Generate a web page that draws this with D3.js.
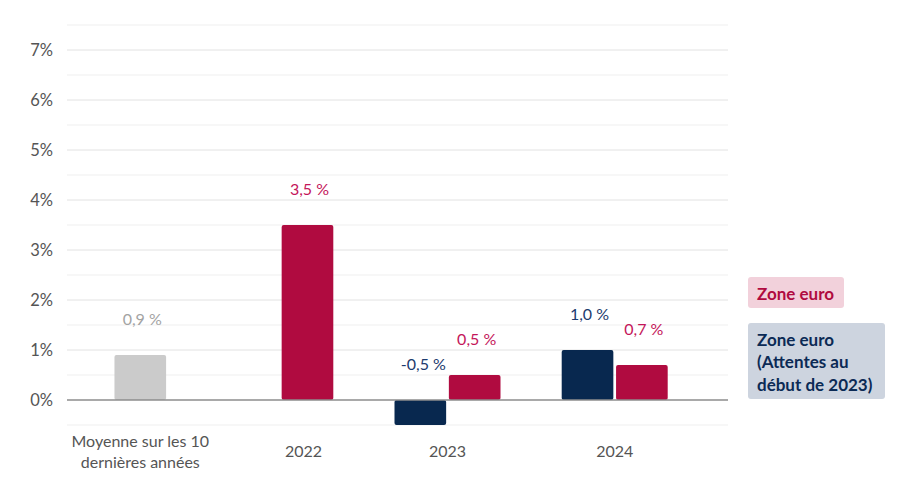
<!DOCTYPE html>
<html><head><meta charset="utf-8">
<script src="https://cdn.jsdelivr.net/npm/d3@7"></script>
<style>body{margin:0;background:#fff;} text{font-family:"Source Sans Pro",Lato,"Open Sans",sans-serif;}</style>
</head><body><svg id="c" width="900" height="477"></svg>
<script>
const categories = ["Moyenne sur les 10|dernières années", "2022", "2023", "2024"];
const seriesNames = ["Zone euro (Attentes au début de 2023)", "Zone euro"];
const expectations = [null, null, -0.5, 1.0];
const zoneEuro = [0.9, 3.5, 0.5, 0.7];
const yTicks = [0, 1, 2, 3, 4, 5, 6, 7];
const yMinor = [-0.5, 0.5, 1.5, 2.5, 3.5, 4.5, 5.5, 6.5, 7.5];
const legendItems = [["Zone euro"], ["Zone euro", "(Attentes au", "début de 2023)"]];

const svg = d3.select("#c");
const red = "#b00b40", navy = "#08284f", grey = "#cbcbcb";
const y = d3.scaleLinear().domain([-0.5, 7.5]).range([425, 25]);
const x0 = d3.scaleBand().domain(categories).range([29.5, 698.3]);
const x1 = d3.scaleBand().domain(seriesNames).range([0, 106]).paddingInner(0.05);
const off = (x0.bandwidth() - 106) / 2;
const gridL = 67, gridR = 728;

svg.append("g").selectAll("line").data(yMinor).join("line")
  .attr("x1", gridL).attr("x2", gridR).attr("y1", d => y(d)).attr("y2", d => y(d))
  .attr("stroke", "#efefef").attr("stroke-width", 1);
svg.append("g").selectAll("line").data(yTicks.filter(d => d !== 0)).join("line")
  .attr("x1", gridL).attr("x2", gridR).attr("y1", d => y(d)).attr("y2", d => y(d))
  .attr("stroke", "#e2e2e2").attr("stroke-width", 1);
svg.append("g").selectAll("text").data(yTicks).join("text")
  .attr("x", 53).attr("y", d => y(d)).attr("dy", "0.35em").attr("text-anchor", "end")
  .attr("font-size", 16.5).attr("fill", "#555").text(d => d + "%");

const bars = [];
categories.forEach((c, i) => {
  if (expectations[i] !== null) bars.push({c, s: seriesNames[0], v: expectations[i], fill: navy, lab: "#1c3b6e"});
  if (zoneEuro[i] !== null) bars.push({c, s: seriesNames[1], v: zoneEuro[i], fill: i === 0 ? grey : red, lab: i === 0 ? "#a3a3a3" : "#c4165a"});
});
const fmt = v => d3.format(".1f")(v).replace(".", ",").replace("\u2212", "-") + " %";
const bx = d => x0(d.c) + off + x1(d.s);
svg.append("g").selectAll("rect").data(bars).join("rect")
  .attr("x", bx).attr("width", x1.bandwidth())
  .attr("y", d => y(Math.max(0, d.v))).attr("height", d => Math.abs(y(d.v) - y(0)))
  .attr("rx", 2).attr("fill", d => d.fill);
svg.append("g").selectAll("text").data(bars).join("text")
  .attr("x", d => bx(d) + x1.bandwidth() / 2 + (d.v < 0 ? 3 : 2))
  .attr("y", d => y(Math.max(0, d.v)) - 30)
  .attr("text-anchor", "middle").attr("font-size", 16).attr("fill", d => d.lab)
  .text(d => fmt(d.v));

svg.append("line").attr("x1", gridL).attr("x2", gridR).attr("y1", y(0)).attr("y2", y(0))
  .attr("stroke", "#8c8c8c").attr("stroke-width", 1.5);

// category labels centered under the drawn bars of each category
categories.forEach((c, i) => {
  const bs = bars.filter(b => b.c === c);
  const cx = d3.mean(bs, b => bx(b) + x1.bandwidth() / 2) - (i === 1 ? 4 : 0);
  const lines = c.split("|");
  const t = svg.append("text").attr("text-anchor", "middle").attr("font-size", 16).attr("fill", "#555");
  const startY = lines.length > 1 ? 447 : 457;
  lines.forEach((l, k) => t.append("tspan").attr("x", cx).attr("y", startY + k * 21).text(l));
});

// legend
const lg = svg.append("g");
const legendBoxes = [
  {lines: legendItems[0], y: 277, h: 31, w: 96, bg: "#f2d1db", col: "#b00b40"},
  {lines: legendItems[1], y: 323, h: 76, w: 137, bg: "#cdd4df", col: "#0b2a55"}
];
legendBoxes.forEach(b => {
  lg.append("rect").attr("x", 748).attr("y", b.y).attr("width", b.w).attr("height", b.h).attr("rx", 3).attr("fill", b.bg);
  const t = lg.append("text").attr("font-size", 17).attr("font-weight", 700).attr("fill", b.col);
  b.lines.forEach((l, k) => t.append("tspan").attr("x", 757).attr("y", b.y + 22.5 + k * 22.5).text(l));
});
</script></body></html>
